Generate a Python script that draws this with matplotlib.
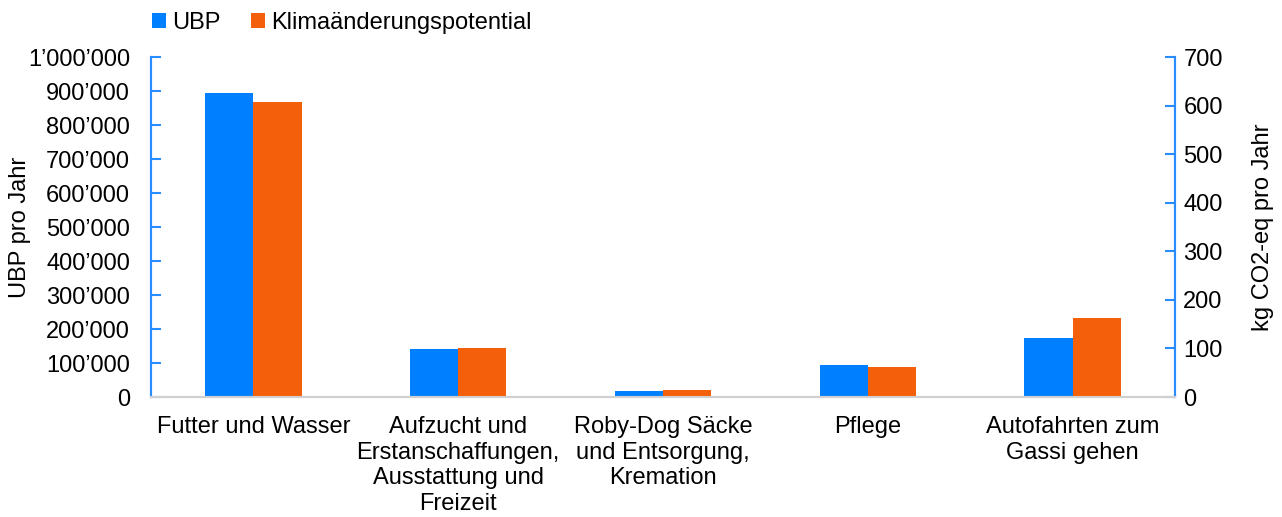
import matplotlib
matplotlib.use("Agg")
import matplotlib.pyplot as plt
import numpy as np
from matplotlib.ticker import FuncFormatter

plt.rcParams['font.family'] = ['Liberation Sans', 'DejaVu Sans']

categories = ["Futter und Wasser",
              "Aufzucht und\nErstanschaffungen,\nAusstattung und\nFreizeit",
              "Roby-Dog Säcke\nund Entsorgung,\nKremation",
              "Pflege",
              "Autofahrten zum\nGassi gehen"]
ubp = [893000, 141000, 17000, 94000, 173000]
co2 = [608, 101, 14, 61, 162]

blue = '#0080FF'
orange = '#F45F0A'
spine_blue = '#2B8CFF'
fs = 17

fig = plt.figure(figsize=(12.82, 5.17), dpi=100)
ax = fig.add_axes([151/1282, 1 - 397/517, 1024/1282, 340/517])
ax2 = ax.twinx()

x = np.arange(len(categories))
w = 0.235
ax.bar(x - w/2, ubp, w, color=blue, label='UBP')
ax2.bar(x + w/2, co2, w, color=orange, label='Klimaänderungspotential')

ax.set_xlim(-0.5, len(categories) - 0.5)
ax.set_ylim(0, 1000000)
ax2.set_ylim(0, 700)
ax.set_yticks(np.arange(0, 1000001, 100000))
ax2.set_yticks(np.arange(0, 701, 100))

def fmt(v, pos):
  return "{:,}".format(int(v)).replace(",", "\u2019")
ax.yaxis.set_major_formatter(FuncFormatter(fmt))

ax.set_xticks(x)
ax.set_xticklabels(categories, fontsize=fs, linespacing=1.2)
ax.tick_params(axis='x', length=0, pad=14)
ax.tick_params(axis='y', direction='in', length=7, width=1.5, color=spine_blue, labelsize=fs, pad=15)
ax2.tick_params(axis='y', direction='in', length=7, width=1.5, color=spine_blue, labelsize=fs, pad=6)

for a in (ax, ax2):
  a.spines['top'].set_visible(False)
  a.spines['left'].set_color(spine_blue)
  a.spines['right'].set_color(spine_blue)
  a.spines['left'].set_linewidth(1.5)
  a.spines['right'].set_linewidth(1.5)
  a.spines['bottom'].set_color('#d0d0d0')
  a.spines['bottom'].set_linewidth(1.5)

# label coords: left label anchored at its right edge, right label at its left edge
ax.set_ylabel("UBP pro Jahr", fontsize=fs)
ax.yaxis.set_label_coords((31 - 151) / 1024, 0.5)
ax2.set_ylabel("kg CO2-eq pro Jahr", fontsize=fs)
ax2.yaxis.set_label_coords((1252 - 151) / 1024, 0.5)

h1, l1 = ax.get_legend_handles_labels()
h2, l2 = ax2.get_legend_handles_labels()
fig.legend(h1 + h2, l1 + l2, loc='center', bbox_to_anchor=(342/1282, 1 - 23/517),
           ncol=2, frameon=False, fontsize=fs, handlelength=0.6, handleheight=0.6,
           handletextpad=0.25, columnspacing=1.3)

fig.savefig("out.png", dpi=100)
